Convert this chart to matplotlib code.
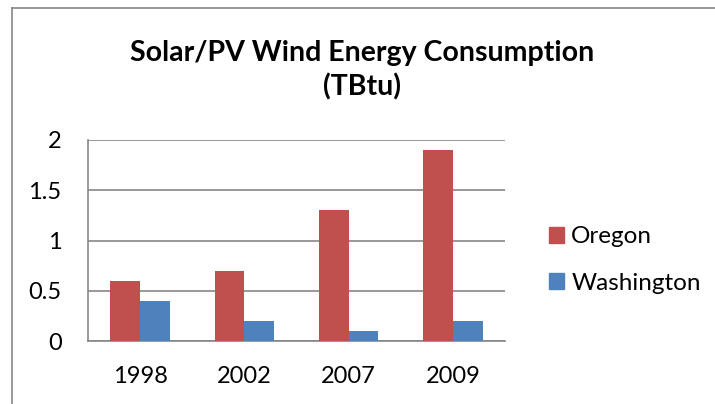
import matplotlib
matplotlib.use("Agg")
import matplotlib.pyplot as plt
import numpy as np
from matplotlib.lines import Line2D
from matplotlib.patches import Patch

plt.rcParams['font.family'] = ['Lato', 'DejaVu Sans']

years = ["1998", "2002", "2007", "2009"]
oregon = [0.6, 0.7, 1.3, 1.9]
washington = [0.4, 0.2, 0.1, 0.2]
title = "Solar/PV Wind Energy Consumption\n(TBtu)"

W, H = 715, 404
fig = plt.figure(figsize=(W/100, H/100), dpi=100)
ax = fig.add_axes([88/W, 1-341/H, (505-88)/W, (341-140)/H])

x = np.arange(len(years))
w = 1/3.5
ax.bar(x - w/2, oregon, w, color="#C0504D", label="Oregon", zorder=3)
ax.bar(x + w/2, washington, w, color="#4F81BD", label="Washington", zorder=3)

ax.set_xlim(-0.5, len(years)-0.5)
ax.set_ylim(0, 2)
ax.set_yticks([0, 0.5, 1, 1.5, 2])
ax.set_yticklabels(["0", "0.5", "1", "1.5", "2"])
ax.set_xticks(x)
ax.set_xticklabels(years)
ax.yaxis.grid(True, color="#868686", linewidth=1.2, zorder=0)
ax.tick_params(axis='both', length=0, labelsize=17, colors="black")
ax.tick_params(axis='y', pad=19)
ax.tick_params(axis='x', pad=18)
for s in ["top", "right"]:
    ax.spines[s].set_visible(False)
for s in ["left", "bottom"]:
    ax.spines[s].set_color("#868686")
    ax.spines[s].set_linewidth(1.2)

fig.text(362/W, 1-70/H, title, ha="center", va="center", fontsize=20.5,
         fontweight="bold", linespacing=1.35)

handles = [Patch(color="#C0504D", label="Oregon"), Patch(color="#4F81BD", label="Washington")]
fig.legend(handles=handles, loc="center left", bbox_to_anchor=(527/W, 1-260/H),
           frameon=False, fontsize=17.5, handlelength=0.62, handleheight=0.62,
           handletextpad=0.3, labelspacing=1.05)

# chart border
fig.add_artist(Line2D([12/W, 12/W], [0, 1-8/H], color="#868686", lw=1.2, transform=fig.transFigure))
fig.add_artist(Line2D([12/W, 1], [1-8/H, 1-8/H], color="#868686", lw=1.2, transform=fig.transFigure))

fig.savefig("out.png", dpi=100)
